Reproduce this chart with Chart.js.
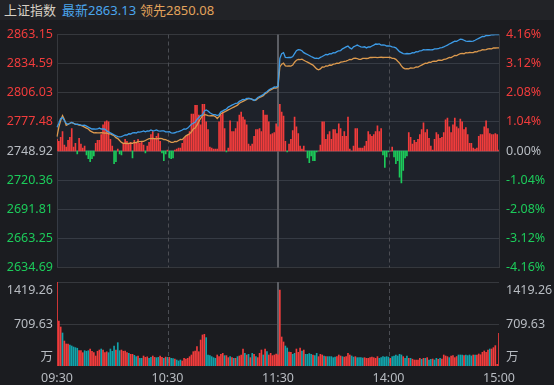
<!DOCTYPE html>
<html>
<head>
<meta charset="utf-8">
<script src="https://cdn.jsdelivr.net/npm/chart.js@4.4.1/dist/chart.umd.min.js"></script>
<style>
  body { margin: 0; background: #1b1c20; width: 554px; height: 385px; overflow: hidden; position: relative; font-family: "Noto Sans", "Noto Sans CJK SC", sans-serif; }
  #head { position: absolute; left: 0; top: 0; width: 554px; height: 20px; background: #222327; font-size: 13px; line-height: 20px; white-space: nowrap; }
  #head span { position: absolute; top: 0; }
  #main { position: absolute; left: 0; top: 20px; }
  #vol { position: absolute; left: 0; top: 275px; }
</style>
</head>
<body>
<div id="head"><span style="left:4px;color:#d6d0c4">上证指数</span><span style="left:62px;color:#4aa6ee">最新2863.13</span><span style="left:140px;color:#e3a35c">领先2850.08</span></div>
<canvas id="main" width="554" height="262"></canvas>
<canvas id="vol" width="554" height="110"></canvas>
<script>
// price axis ticks (left) and the matching % change labels (right)
const priceTicks = [2634.69, 2663.25, 2691.81, 2720.36, 2748.92, 2777.48, 2806.03, 2834.59, 2863.15]
const pctTicks = [-4.16, -3.12, -2.08, -1.04, 0, 1.04, 2.08, 3.12, 4.16]
const prevClose = 2748.92
const volTicks = [709.63, 1419.26]
const volUnit = '万'
const times = ['09:30', '10:30', '11:30', '14:00', '15:00']
const timeIdx = [0, 60, 120, 180, 240]

// 最新 (index), one value per minute 09:30..11:30, 13:01..15:00
const latest = [
  2772.3, 2776.1, 2780.8, 2781.7, 2778.9, 2776.1, 2775.1, 2776.1, 2777.0, 2776.1,
  2775.1, 2775.3, 2774.9, 2774.2, 2774.0, 2774.3, 2773.3, 2772.3, 2771.4, 2770.5,
  2770.6, 2770.3, 2770.5, 2771.4, 2770.5, 2770.7, 2770.4, 2768.6, 2767.7, 2766.7,
  2765.8, 2764.8, 2763.9, 2763.0, 2762.8, 2763.1, 2763.9, 2764.8, 2764.6, 2765.8,
  2765.6, 2766.7, 2766.9, 2766.6, 2767.7, 2767.5, 2767.8, 2768.6, 2767.7, 2768.6,
  2768.4, 2769.5, 2768.6, 2768.8, 2769.5, 2768.6, 2768.5, 2768.7, 2768.6, 2767.7,
  2767.6, 2767.8, 2766.7, 2766.5, 2766.8, 2767.7, 2767.9, 2768.6, 2769.5, 2770.5,
  2770.4, 2771.4, 2773.3, 2775.1, 2776.1, 2777.0, 2779.8, 2781.7, 2783.6, 2784.5,
  2788.2, 2789.2, 2788.2, 2786.4, 2785.4, 2784.5, 2784.6, 2783.6, 2784.5, 2787.3,
  2788.2, 2789.2, 2790.1, 2792.0, 2792.9, 2793.9, 2794.8, 2795.7, 2795.9, 2797.6,
  2798.5, 2799.5, 2799.3, 2800.4, 2800.6, 2800.3, 2799.5, 2798.5, 2799.5, 2801.4,
  2802.3, 2803.2, 2804.2, 2806.0, 2807.0, 2808.8, 2809.8, 2810.7, 2811.7, 2811.5,
  2812.6,
  2839.7, 2844.4, 2845.4, 2840.7, 2840.5, 2840.8, 2840.6, 2841.6, 2844.4, 2847.2,
  2848.2, 2848.0, 2847.2, 2845.4, 2844.4, 2843.5, 2842.6, 2841.6, 2840.7, 2839.7,
  2839.9, 2839.6, 2840.7, 2841.6, 2842.6, 2843.5, 2843.3, 2844.4, 2844.2, 2845.4,
  2845.2, 2846.3, 2847.2, 2847.4, 2849.1, 2850.0, 2851.0, 2851.9, 2850.0, 2849.1,
  2851.0, 2851.9, 2852.8, 2851.9, 2851.0, 2850.8, 2851.1, 2850.0, 2851.0, 2850.9,
  2851.9, 2852.8, 2853.8, 2853.6, 2853.9, 2852.8, 2852.9, 2852.7, 2851.9, 2852.0,
  2851.8, 2851.0, 2850.8, 2850.0, 2848.2, 2846.3, 2845.4, 2844.4, 2844.2, 2844.5,
  2844.3, 2844.4, 2845.4, 2845.2, 2846.3, 2846.1, 2847.2, 2847.4, 2848.2, 2848.1,
  2848.3, 2848.2, 2848.0, 2848.2, 2849.1, 2849.0, 2849.2, 2850.0, 2850.2, 2851.0,
  2851.9, 2852.8, 2853.8, 2854.7, 2855.7, 2856.6, 2856.5, 2857.5, 2858.5, 2858.3,
  2857.5, 2856.6, 2856.4, 2856.7, 2856.5, 2856.6, 2857.5, 2858.5, 2859.4, 2860.3,
  2861.3, 2861.1, 2862.2, 2862.0, 2862.3, 2863.0, 2862.9, 2863.1, 2863.0, 2863.13
]

// 领先 (leading index)
const leader = [
  2763.0, 2772.3, 2778.9, 2783.6, 2779.8, 2774.2, 2775.1, 2776.1, 2777.0, 2776.0,
  2775.2, 2775.0, 2774.2, 2774.1, 2773.3, 2772.3, 2771.4, 2770.5, 2768.6, 2767.7,
  2766.7, 2766.8, 2766.6, 2766.7, 2766.9, 2766.7, 2766.5, 2766.7, 2765.8, 2765.7,
  2764.8, 2763.9, 2762.0, 2761.1, 2759.2, 2757.4, 2756.4, 2756.5, 2756.3, 2756.4,
  2756.6, 2756.4, 2757.4, 2757.2, 2758.3, 2758.1, 2758.4, 2758.3, 2759.2, 2760.2,
  2761.1, 2761.0, 2761.2, 2761.1, 2760.9, 2761.1, 2761.3, 2761.1, 2760.2, 2760.0,
  2759.2, 2758.3, 2757.4, 2757.3, 2758.3, 2758.1, 2759.2, 2760.2, 2760.1, 2762.0,
  2763.9, 2764.8, 2765.8, 2767.7, 2770.5, 2771.4, 2774.2, 2777.9, 2780.8, 2783.6,
  2784.5, 2784.4, 2783.6, 2783.4, 2783.7, 2783.5, 2782.6, 2780.8, 2782.6, 2785.4,
  2786.4, 2787.3, 2788.2, 2789.2, 2790.1, 2791.1, 2792.0, 2792.9, 2793.9, 2795.7,
  2796.7, 2797.6, 2798.5, 2799.5, 2800.4, 2800.2, 2799.5, 2798.5, 2798.7, 2800.4,
  2801.4, 2802.3, 2803.2, 2805.1, 2806.0, 2807.9, 2808.8, 2809.8, 2810.7, 2810.5,
  2811.7,
  2831.3, 2834.1, 2835.1, 2832.3, 2832.1, 2832.4, 2832.2, 2833.2, 2836.0, 2837.9,
  2838.8, 2838.6, 2838.9, 2837.9, 2836.9, 2836.0, 2835.1, 2834.1, 2833.2, 2831.3,
  2829.4, 2828.5, 2829.4, 2831.3, 2831.1, 2832.3, 2832.1, 2833.2, 2833.0, 2834.1,
  2834.3, 2835.1, 2834.9, 2836.0, 2836.2, 2836.9, 2837.1, 2837.9, 2838.8, 2838.6,
  2839.7, 2839.9, 2839.6, 2838.8, 2838.7, 2839.7, 2839.8, 2839.6, 2839.7, 2840.7,
  2840.6, 2840.8, 2840.7, 2840.5, 2840.7, 2840.9, 2840.6, 2840.7, 2840.8, 2840.7,
  2840.6, 2839.7, 2839.8, 2838.8, 2836.9, 2835.1, 2832.3, 2830.4, 2829.4, 2829.6,
  2829.4, 2830.4, 2830.2, 2830.5, 2831.3, 2831.2, 2832.3, 2833.2, 2834.1, 2835.1,
  2834.9, 2836.0, 2835.8, 2836.9, 2837.1, 2836.8, 2837.9, 2838.1, 2837.8, 2838.8,
  2838.9, 2839.7, 2840.7, 2840.5, 2841.6, 2842.6, 2842.4, 2843.5, 2844.4, 2844.6,
  2844.3, 2845.4, 2845.2, 2845.5, 2845.3, 2845.4, 2846.3, 2846.1, 2847.2, 2847.4,
  2848.2, 2848.0, 2848.3, 2849.1, 2849.2, 2849.0, 2850.0, 2849.9, 2850.1, 2850.08
]

// buy/sell strength bars (red up, green down)
const strength = [
  12, 10, 14, 20, 6, 4, 11, 14, 23, 4,
  8, -3, 13, 7, 3, 5, -4, -8, -11, -8,
  -5, 8, 11, 11, 17, 27, 30, 31, 30, 12,
  5, -13, -11, 2, -3, -4, 8, 12, 10, 7,
  9, -7, 11, 9, 12, 8, 10, 6, -2, 5,
  9, 17, 20, 13, 15, 18, 10, -2, -10, -3,
  1, -7, -8, -7, 1, 2, 3, 3, 8, 13,
  15, 17, 20, 38, 38, 47, 47, 37, 27, 48,
  48, 30, 22, 4, 3, 2, 2, 2, 30, 37,
  40, 23, -1, 3, 31, 20, 20, 23, 30, 37,
  40, 35, 32, 27, 7, 5, 7, 15, 22, 22,
  23, 20, 42, 37, 37, 30, 17, 18, 19, 28,
  25,
  48, 40, 36, 10, -1, 7, 12, 21, 35, 25,
  18, 5, 2, 5, 0, -7, -12, -5, -10, -10,
  -1, 0, 6, 30, 30, 12, 17, 20, 12, 22,
  22, 18, 28, 23, 15, 20, 15, 35, 2, 0,
  5, 23, 23, 3, 3, 3, 5, 10, 20, 17,
  15, 17, 20, 26, 20, 23, -4, -17, -6, -1,
  0, 4, -6, -13, -10, -27, -33, -20, -7, -5,
  19, 14, 7, 11, 9, 12, 17, 22, 29, 19,
  22, 13, 5, 1, 12, 19, 17, 13, 14, 19,
  32, 34, 25, 19, 27, 34, 25, 23, 33, 30,
  22, 24, 17, 8, 8, 3, 2, 3, 15, 17,
  17, 25, 31, 23, 18, 17, 17, 18, 17, 1
]

// volume (万) and whether the minute closed up (1) or down (0)
const volume = [
  1419, 760, 659, 558, 422, 372, 372, 355, 338, 321,
  310, 300, 259, 259, 225, 259, 249, 259, 287, 249,
  225, 169, 249, 270, 287, 270, 225, 240, 225, 287,
  249, 338, 270, 394, 259, 270, 249, 254, 225, 214,
  197, 197, 180, 158, 169, 130, 130, 169, 146, 155,
  130, 146, 169, 146, 140, 146, 169, 146, 130, 150,
  146, 146, 130, 125, 118, 101, 85, 101, 85, 130,
  118, 130, 157, 186, 242, 254, 327, 242, 439, 524,
  535, 479, 186, 175, 158, 141, 130, 186, 158, 197,
  214, 175, 175, 141, 158, 141, 130, 130, 158, 169,
  186, 287, 214, 186, 197, 141, 214, 197, 158, 141,
  214, 270, 186, 287, 242, 186, 214, 175, 186, 200,
  190,
  1284, 490, 406, 338, 304, 237, 231, 197, 214, 287,
  231, 304, 254, 270, 197, 197, 210, 197, 186, 175,
  214, 158, 197, 186, 169, 158, 158, 158, 158, 141,
  150, 158, 186, 169, 158, 150, 158, 214, 186, 169,
  150, 158, 141, 141, 141, 135, 141, 130, 130, 141,
  150, 141, 130, 158, 130, 141, 158, 150, 158, 150,
  130, 158, 169, 186, 169, 197, 186, 158, 130, 169,
  130, 130, 115, 101, 101, 101, 130, 113, 130, 130,
  141, 101, 113, 118, 101, 130, 113, 130, 118, 186,
  169, 158, 141, 169, 175, 141, 160, 186, 186, 186,
  175, 186, 175, 186, 170, 186, 186, 186, 203, 190,
  231, 254, 231, 270, 287, 287, 310, 344, 28, 552
]
const volUp = [
  1, 1, 1, 0, 1, 1, 1, 0, 0, 0,
  0, 0, 1, 1, 1, 0, 0, 0, 1, 1,
  1, 1, 1, 1, 0, 1, 1, 1, 0, 0,
  0, 0, 1, 0, 0, 1, 1, 1, 1, 0,
  1, 1, 0, 0, 1, 0, 0, 1, 1, 1,
  0, 0, 1, 1, 0, 0, 1, 1, 0, 1,
  0, 1, 0, 0, 1, 0, 0, 0, 1, 1,
  1, 1, 1, 1, 1, 1, 1, 1, 1, 1,
  1, 0, 0, 0, 0, 0, 0, 1, 1, 1,
  1, 0, 1, 1, 0, 1, 0, 1, 0, 1,
  1, 1, 0, 1, 0, 1, 0, 1, 0, 1,
  1, 1, 0, 1, 0, 1, 1, 1, 1, 1,
  1,
  1, 1, 1, 0, 0, 1, 1, 0, 0, 1,
  1, 1, 0, 1, 0, 0, 0, 0, 1, 0,
  0, 1, 1, 1, 0, 1, 0, 0, 0, 0,
  0, 1, 1, 1, 0, 1, 1, 1, 1, 0,
  0, 1, 0, 0, 0, 0, 1, 1, 1, 1,
  1, 1, 1, 1, 0, 0, 0, 0, 0, 0,
  1, 0, 0, 0, 0, 0, 0, 1, 0, 0,
  1, 0, 1, 1, 1, 1, 1, 0, 1, 0,
  1, 0, 0, 1, 0, 0, 1, 0, 1, 1,
  1, 1, 0, 1, 1, 1, 1, 0, 0, 0,
  1, 0, 0, 0, 0, 1, 0, 1, 1, 1,
  1, 1, 1, 1, 0, 1, 1, 1, 1, 1
]

const RED = '#f23c3c'
const GREEN = '#1ccb5a'
const TEAL = '#12a2aa'
const GRAY = '#b8bcc2'
const BLUE = '#3d9be6'
const ORANGE = '#dc9a4e'
const GRID = '#36383d'
const FONT = { family: 'Noto Sans', size: 12.5 }

const minutes = latest.map((_, i) => i)

const fixWidth = w => scale => { scale.width = w }
const priceColor = v => v > prevClose + 0.01 ? RED : v < prevClose - 0.01 ? GREEN : GRAY

// 10:30 / 14:00 dashed, 11:30 (lunch break) solid
const timeLines = {
  id: 'timeLines',
  beforeDatasetsDraw(chart) {
    const { ctx, chartArea: a, scales: { x } } = chart
    ctx.save()
    ctx.lineWidth = 1
    ctx.strokeStyle = '#4b4d53'
    ctx.setLineDash([4, 3])
    for (const i of [timeIdx[1], timeIdx[3]]) {
      const px = Math.round(x.getPixelForValue(i)) + 0.5
      ctx.beginPath(); ctx.moveTo(px, a.top); ctx.lineTo(px, a.bottom); ctx.stroke()
    }
    ctx.setLineDash([])
    ctx.lineWidth = 2
    ctx.strokeStyle = '#5c5e64'
    const mid = Math.round(x.getPixelForValue(timeIdx[2]))
    ctx.beginPath(); ctx.moveTo(mid, a.top); ctx.lineTo(mid, a.bottom); ctx.stroke()
    ctx.restore()
  }
}

const volLabels = {
  id: 'volLabels',
  afterDraw(chart) {
    const { ctx, chartArea: a, scales: { v } } = chart
    const rows = [
      [volTicks[1].toFixed(2), v.getPixelForValue(volTicks[1]) + 8],
      [volTicks[0].toFixed(2), v.getPixelForValue(volTicks[0])],
      [volUnit, v.getPixelForValue(0) - 9]
    ]
    ctx.save()
    ctx.font = '12.5px "Noto Sans", "Noto Sans CJK SC"'
    ctx.fillStyle = GRAY
    ctx.textBaseline = 'middle'
    for (const [t, y] of rows) {
      ctx.textAlign = 'right'
      ctx.fillText(t, a.left - 4, y)
      ctx.textAlign = 'left'
      ctx.fillText(t, a.right + 7, y)
    }
    ctx.restore()
  }
}

new Chart('main', {
  type: 'bar',
  data: {
    labels: minutes,
    datasets: [
      { type: 'line', data: latest, yAxisID: 'y', borderColor: BLUE, borderWidth: 1.3, pointRadius: 0,
        fill: 'start', backgroundColor: 'rgba(60, 90, 140, 0.1)', order: 1 },
      { type: 'line', data: leader, yAxisID: 'y', borderColor: ORANGE, borderWidth: 1.3, pointRadius: 0,
        fill: false, order: 2 },
      { data: strength, yAxisID: 'ys', barThickness: 1, order: 3,
        backgroundColor: c => c.raw >= 0 ? RED : GREEN }
    ]
  },
  options: {
    responsive: false,
    animation: false,
    layout: { padding: { top: 8, bottom: 10, left: 0, right: 0 } },
    plugins: {
      legend: { display: false },
      tooltip: { enabled: false },
      filler: { drawTime: 'beforeDatasetsDraw' }
    },
    scales: {
      x: { display: false, offset: false },
      y: {
        position: 'left', min: priceTicks[0], max: priceTicks[8],
        afterBuildTicks: s => { s.ticks = priceTicks.map(v => ({ value: v })) },
        afterFit: fixWidth(57),
        ticks: { font: FONT, padding: 4, color: c => priceColor(c.tick.value), callback: v => v.toFixed(2) },
        grid: { drawTicks: false, color: c => c.index === 4 ? '#3e424a' : GRID, lineWidth: c => c.index === 4 ? 2 : 1 },
        border: { color: GRID }
      },
      yr: {
        position: 'right', min: priceTicks[0], max: priceTicks[8],
        afterBuildTicks: s => { s.ticks = priceTicks.map(v => ({ value: v })) },
        afterFit: fixWidth(55),
        ticks: { font: FONT, padding: 7, color: c => priceColor(c.tick.value), callback: (v, i) => pctTicks[i].toFixed(2) + '%' },
        grid: { display: false, drawTicks: false },
        border: { color: GRID }
      },
      ys: { display: false, min: -120, max: 120 }
    }
  },
  plugins: [timeLines]
})

new Chart('vol', {
  type: 'bar',
  data: {
    labels: minutes,
    datasets: [{
      data: volume, yAxisID: 'v', barThickness: 1,
      backgroundColor: c => volUp[c.dataIndex] ? RED : TEAL
    }]
  },
  options: {
    responsive: false,
    animation: false,
    layout: { padding: { top: 7, bottom: 0, left: 0, right: 0 } },
    plugins: { legend: { display: false }, tooltip: { enabled: false } },
    scales: {
      x: {
        offset: false,
        grid: { display: false, drawTicks: false },
        border: { display: false },
        afterBuildTicks: s => { s.ticks = timeIdx.map(v => ({ value: v })) },
        afterFit: s => { s.height = 19 },
        ticks: { autoSkip: false, maxRotation: 0, padding: 5, font: FONT, color: GRAY, callback: (v, i) => times[i] }
      },
      v: {
        position: 'left', min: 0, max: volTicks[1],
        afterBuildTicks: s => { s.ticks = volTicks.map(v => ({ value: v })) },
        afterFit: fixWidth(57),
        ticks: { display: false },
        grid: { drawTicks: false, color: GRID },
        border: { display: false }
      },
      v2: {
        position: 'right', min: 0, max: volTicks[1],
        afterFit: fixWidth(55),
        ticks: { display: false },
        grid: { display: false, drawTicks: false },
        border: { display: false }
      }
    }
  },
  plugins: [timeLines, volLabels]
})
</script>
</body>
</html>
